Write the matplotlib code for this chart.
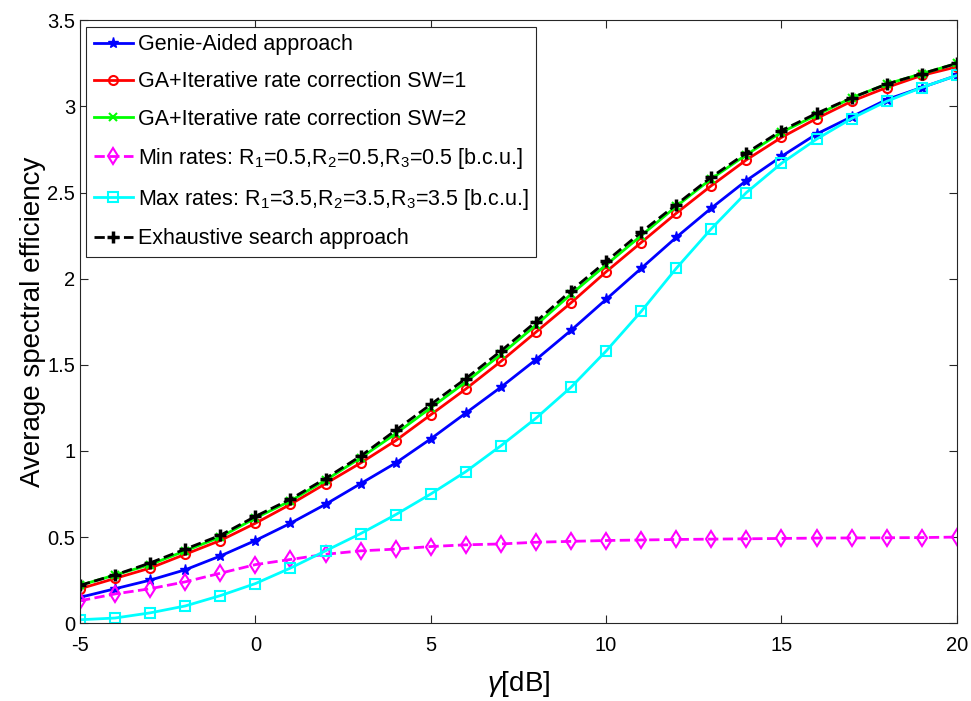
import numpy as np
import matplotlib.pyplot as plt

plt.rcParams['font.family'] = ['Liberation Sans', 'DejaVu Sans']
plt.rcParams['mathtext.fontset'] = 'custom'
plt.rcParams['mathtext.rm'] = 'Liberation Sans'
plt.rcParams['mathtext.it'] = 'Liberation Sans:italic'
plt.rcParams['axes.unicode_minus'] = False

gamma_db = list(range(-5, 21))

genie = [0.15, 0.20, 0.25, 0.31, 0.39, 0.48, 0.58, 0.69, 0.81, 0.93, 1.07, 1.22, 1.37,
         1.53, 1.70, 1.88, 2.06, 2.24, 2.41, 2.57, 2.71, 2.84, 2.94, 3.04, 3.11, 3.18]
sw1 = [0.20, 0.26, 0.32, 0.40, 0.48, 0.58, 0.69, 0.81, 0.93, 1.06, 1.21, 1.36, 1.52,
       1.69, 1.86, 2.04, 2.21, 2.38, 2.54, 2.69, 2.82, 2.93, 3.03, 3.11, 3.18, 3.23]
sw2 = [0.22, 0.28, 0.34, 0.42, 0.50, 0.61, 0.71, 0.83, 0.96, 1.10, 1.25, 1.40, 1.56,
       1.73, 1.91, 2.08, 2.25, 2.42, 2.58, 2.72, 2.85, 2.95, 3.05, 3.13, 3.19, 3.25]
min_rates = [0.13, 0.17, 0.20, 0.24, 0.29, 0.34, 0.37, 0.40, 0.42, 0.43, 0.445, 0.455, 0.46,
             0.47, 0.475, 0.48, 0.483, 0.486, 0.488, 0.49, 0.492, 0.494, 0.495, 0.496, 0.497, 0.50]
max_rates = [0.02, 0.03, 0.06, 0.10, 0.16, 0.23, 0.32, 0.42, 0.52, 0.63, 0.75, 0.88, 1.03,
             1.19, 1.37, 1.58, 1.81, 2.06, 2.29, 2.50, 2.67, 2.81, 2.93, 3.03, 3.11, 3.18]
exhaustive = [0.22, 0.28, 0.35, 0.43, 0.51, 0.62, 0.72, 0.84, 0.97, 1.12, 1.27, 1.42, 1.58,
              1.75, 1.93, 2.10, 2.27, 2.43, 2.59, 2.73, 2.86, 2.96, 3.05, 3.13, 3.19, 3.25]

fig = plt.figure(figsize=(9.71, 7.01), dpi=100)
ax = fig.add_axes([0.0824, 0.111, 0.903, 0.860])

lw = 2
ax.plot(gamma_db, genie, '-*', color='#0000ff', lw=lw, ms=8, label='Genie-Aided approach')
ax.plot(gamma_db, sw1, '-o', color='#ff0000', lw=lw, ms=6.5, mfc='none', mew=1.5,
        label='GA+Iterative rate correction SW=1')
ax.plot(gamma_db, sw2, '-x', color='#00ff00', lw=lw, ms=6, mew=1.5,
        label='GA+Iterative rate correction SW=2')
ax.plot(gamma_db, min_rates, '--d', color='#ff00ff', lw=lw, ms=8, mfc='none', mew=1.5,
        label=r'Min rates: R$_1$=0.5,R$_2$=0.5,R$_3$=0.5 [b.c.u.]')
ax.plot(gamma_db, max_rates, '-s', color='#00ffff', lw=lw, ms=6.5, mfc='none', mew=1.5,
        label=r'Max rates: R$_1$=3.5,R$_2$=3.5,R$_3$=3.5 [b.c.u.]')
ax.plot(gamma_db, exhaustive, '--+', color='black', lw=lw, ms=9, mew=2.5,
        label='Exhaustive search approach')

ax.set_xlim(-5, 20)
ax.set_ylim(0, 3.5)
ax.set_xticks([-5, 0, 5, 10, 15, 20])
ax.set_yticks(np.arange(0, 3.51, 0.5))
ax.set_yticklabels(['0', '0.5', '1', '1.5', '2', '2.5', '3', '3.5'])
ax.tick_params(direction='in', top=True, right=True, labelsize=14.5, length=6, color='#262626')
ax.tick_params(axis='x', pad=9)
for s in ax.spines.values():
    s.set_color('#262626')
ax.set_xlabel(r'$\gamma$[dB]', fontsize=20, labelpad=10)
ax.set_ylabel('Average spectral efficiency', fontsize=20, labelpad=1)

leg = ax.legend(loc='upper left', fontsize=15.5, handlelength=1.8, handletextpad=0.25,
                borderpad=0.35, labelspacing=0.75, fancybox=False, framealpha=1,
                edgecolor='#262626', borderaxespad=0.3)
leg.get_frame().set_linewidth(0.8)

plt.savefig('out.png')
